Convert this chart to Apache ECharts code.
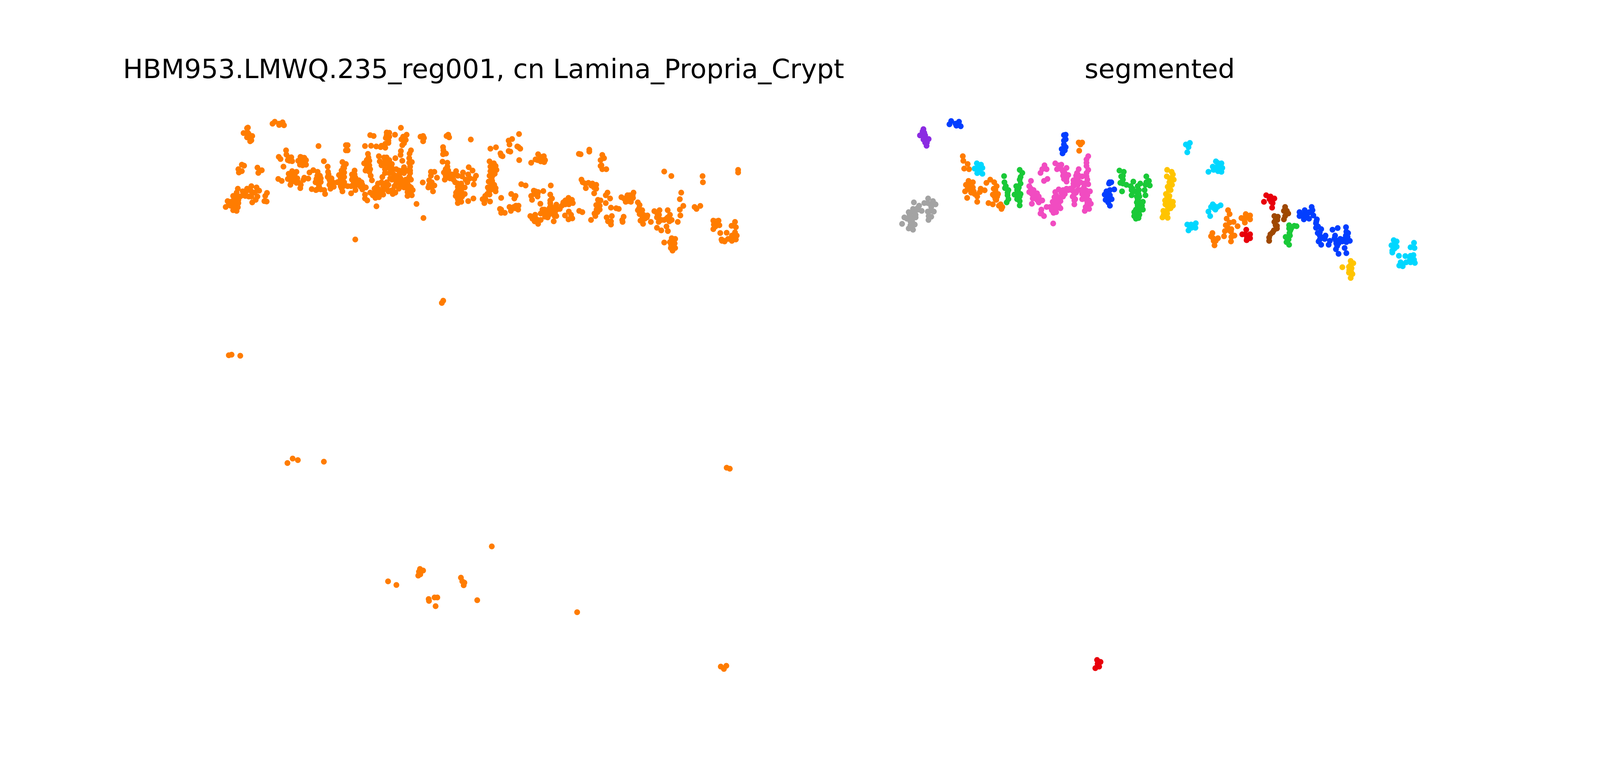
<!DOCTYPE html>
<html><head><meta charset="utf-8"><style>html,body{margin:0;padding:0;background:#fff;overflow:hidden}</style>
<script src="https://cdn.jsdelivr.net/npm/echarts@6/dist/echarts.min.js"></script></head><body><div id="c"></div>
<script>
const titleLeft = "HBM953.LMWQ.235_reg001, cn Lamina_Propria_Crypt";
const titleRight = "segmented";
const allCells = [
[102,780],[145,805],[165,810],[172,782],[113,735],[145,695],[165,670],[172,640],[200,660],[185,700],[215,695],[225,640],[250,620],[280,630],[295,655],[285,700],[250,700],[255,745],[275,725],[130,740],[150,745],[150,775],[175,725],[340,672],[330,695],[325,735],[338,738],
[160,700],[175,750],[130,770],[200,690],[220,660],[250,660],[270,670],[235,700],[150,720],[120,760],
[225,175],[230,170],[205,212],[230,210],[255,235],[225,245],[250,268],[243,275],[225,210],[240,240],[235,220],
[372,140],[385,125],[410,140],[430,130],[438,152],[410,150],
[195,455],[208,463],[175,490],[178,515],[195,505],[285,478],[310,498],[290,518],[408,395],[418,412],[435,470],
[450,345],[452,378],[480,398],[460,420],[485,428],[533,395],[555,402],[565,420],[520,425],[530,455],[565,455],[540,430],[637,312],[668,428],[405,565],[425,580],[465,400],[470,425],[540,400],[530,420],[550,440],[545,460],[555,425],
[485,505],[510,510],[465,525],[460,565],[490,540],[515,560],[475,610],[510,595],[535,610],[532,635],[490,575],[555,555],[550,572],[578,562],[480,530],[500,530],[475,565],[505,575],[520,590],[480,590],
[585,515],[607,497],[632,510],[645,540],[640,570],[620,590],[650,588],[598,643],[622,650],[640,620],[630,645],[630,540],[625,565],[650,560],[635,600],
[690,470],[692,510],[690,550],[712,560],[705,590],[710,620],[706,640],[725,625],[670,650],[675,680],[650,645],[700,570],[695,530],[720,590],[700,610],
[745,590],[755,535],[775,435],[795,450],[780,475],[785,515],[770,555],[770,600],[785,590],[775,660],[770,635],[765,560],[760,580],[775,520],[785,480],[775,580],[765,620],[780,620],[770,500],[785,550],
[795,305],[805,305],[795,345],[805,345],
[845,500],[830,530],[830,570],[850,555],[870,575],[885,590],[860,610],[880,625],[910,630],[805,620],[825,620],[850,650],[890,645],[825,675],[840,590],[845,530],[850,590],[860,580],[845,620],[870,600],[890,610],[835,550],
[905,312],[935,228],[955,235],[1112,172],[940,310],[970,315],[995,320],[1022,325],[1040,288],[1022,295],
[922,372],[930,425],[900,445],[908,500],[935,490],[915,420],[938,540],[945,575],[915,450],[930,460],[925,400],[915,480],[930,510],
[1030,208],[1045,210],[1025,250],[1045,240],[1078,225],[1145,225],[1115,260],[1140,265],[1120,305],[1112,350],[1120,425],[1110,380],[1040,270],[1030,230],[1130,290],[1125,240],[1000,310],
[1170,345],[1162,370],[1160,405],[1175,435],[1165,470],[1165,520],[1160,440],[1165,500],
[985,390],[1015,400],[990,430],[1045,420],[1025,450],[1080,405],[1020,490],[1045,480],[1045,520],[1085,490],[1130,475],[1130,520],[1090,540],[1050,560],
[1020,520],[1060,500],[1070,530],[1100,500],[1120,500],[1110,520],[1145,500],[1020,430],[1000,460],[1040,450],[1060,450],[1030,400],[1060,480],
[1005,550],[1000,590],[970,630],[960,670],[985,670],[1010,685],[985,705],[965,710],[935,670],[1065,680],[1055,655],[1100,640],[1085,600],[1040,610],[1110,560],
[980,600],[1010,620],[1030,640],[1060,570],[1080,570],[1100,590],[1120,580],[1140,570],[1010,650],[1075,620],[1110,610],[1130,630],[1160,620],[1165,660],[1140,620],[1150,640],[1030,590],[980,640],[960,640],[950,690],[985,650],[1000,660],[960,690],[1040,660],[1065,650],[1080,670],
[905,685],[905,715],[918,730],[971,775],
[1170,570],[1150,600],[1170,630],[1180,650],[1150,665],[1150,695],[1175,690],[1135,590],[1160,550],
[1202,757],[1242,865],[849,1030],[1240,235],[1225,240],[1245,250],[1240,275],[1385,225],[1375,235],[1390,245],[1515,262],
[1355,320],[1357,345],[1355,375],[1372,370],[1352,432],[1380,440],[1380,470],[1360,515],[1385,520],[1365,570],[1405,530],[1370,490],[1370,540],[1385,500],[1400,550],
[1238,592],[1285,510],[1305,510],[1320,555],[1275,575],[1305,615],[1270,630],[1297,660],[1285,540],[1290,590],[1290,630],[1275,610],
[1430,505],[1470,515],[1415,570],[1425,590],[1465,545],[1500,530],[1525,500],[1503,475],[1545,540],[1535,565],[1495,590],[1532,607],[1510,560],[1485,570],[1440,540],[1420,530],[1395,560],
[1440,625],[1480,630],[1440,650],[1480,680],[1428,695],[1440,720],[1460,740],[1440,750],[1530,715],[1500,735],[1440,600],[1460,600],[1460,630],[1460,660],[1450,690],[1465,700],[1455,720],[1430,670],
[1793,220],[1733,270],[1753,258],[1738,300],[1733,350],[1743,355],[1628,332],[1660,322],[1783,315],[1800,332],[1790,320],[1686,368],[1698,390],[1690,385],[1794,420],
[1903,375],[1936,390],[1943,420],[1918,430],[1938,435],[1888,415],[1863,440],[1913,410],[1925,395],[1930,410],[1900,420],[2138,372],[2148,375],[2198,340],[2198,355],
[2273,380],[2283,405],[2263,420],[2263,465],[2273,490],[2296,490],[2268,460],[2630,508],[2671,542],[2851,543],[2853,590],[3056,495],[3056,515],
[1623,430],[1648,445],[1658,465],[1628,470],[1663,495],[1653,525],[1623,540],[1628,505],[1618,585],[1613,630],[1633,610],[1658,635],[1658,660],[1628,650],[1598,695],[1583,720],[1623,685],[1593,750],[1626,738],[1638,580],
[1640,460],[1640,500],[1640,540],[1635,560],[1640,600],[1640,640],[1650,610],[1620,650],[1610,680],[1600,720],
[1806,605],[1831,615],[1748,680],[1773,695],[1766,715],[1690,710],
[1976,615],[1933,658],[1888,660],[1903,665],[1878,655],[1863,695],[1868,725],[1893,680],[1900,680],[1880,680],[1900,700],
[1973,685],[1983,715],[1973,750],[2008,762],[1916,755],[2028,795],[2048,745],[2078,710],[2098,725],[2103,750],[2068,745],[1973,730],[2060,730],[2060,760],[2040,770],[2085,730],[2080,760],
[1968,790],[1928,800],[1918,830],[1978,830],[1998,850],[2008,850],[1993,890],[1958,860],[1943,855],[1975,770],[1975,800],[1960,820],[1945,830],[1990,820],[2000,830],[1965,840],[1940,800],[1995,790],[2010,800],
[1858,850],[1886,840],[1883,890],[1903,910],[1918,880],[1870,870],[1890,870],[1900,880],
[1683,795],[1690,825],[1711,825],[1738,780],[1746,810],[1763,780],[1790,770],[1788,800],[1770,790],[1775,770],[1690,800],
[2080,815],[2093,840],[2058,845],[2078,875],[2100,868],[2140,810],[2158,820],
[2248,725],[2263,730],[2238,765],[2258,800],[2228,830],[2233,850],[2208,880],[2258,770],[2248,760],[2250,780],[2240,800],[2245,820],
[2153,570],[2160,590],[2193,595],[2178,635],[2216,600],[2238,610],[2238,640],[2226,675],[2175,600],[2210,615],[2225,630],
[2303,670],[2293,690],[2318,715],[2293,750],[2323,785],[2353,790],[2368,795],[2328,850],[2298,860],[2323,890],[2323,915],[2306,890],[2396,855],[2388,880],[2390,895],
[2383,705],[2398,715],[2418,690],[2453,670],[2448,690],[2423,735],[2438,740],[2408,740],[2405,720],[2420,710],[2435,700],[2450,710],[2430,690],
[2478,745],[2488,765],[2478,805],[2503,805],[2488,835],[2533,845],[2518,870],[2493,885],[2508,910],[2553,895],[2485,790],[2495,820],[2510,840],[2505,860],[2530,860],
[2573,812],[2603,805],[2588,860],[2613,880],[2598,895],[2588,940],[2613,960],[2650,805],[2663,840],[2643,870],[2673,880],[2643,930],[2651,965],[2590,830],[2600,840],[2600,870],[2660,890],[2630,880],[2650,860],
[2728,670],[2720,720],[2740,772],[2720,800],[2723,845],[2708,895],[2805,780],[2838,772],[2816,795],
[2673,1020],[2693,1025],[2663,1050],[2630,1053],[2668,1095],[2693,1095],[2678,1115],[2670,1070],[2680,1050],[2680,1080],[2690,1060],
[2913,885],[2943,885],[2916,915],[2948,920],[2913,950],[2930,900],[2925,930],[2930,890],[3038,895],[3018,925],[3043,935],[2953,980],[2990,978],[3038,975],[2963,1040],[2978,1045],[2998,1025],[3023,1020],[3043,1030],[3048,1000],[3020,1000],[3020,1040],[3040,1000],[2975,1040],[2960,1030],
[1356,1500],[1348,1517],[120,1919],[136,1915],[186,1923],[458,2747],[488,2713],[518,2725],[668,2737],[2990,2783],[3008,2791],[1636,3388],
[1222,3561],[1240,3573],[1212,3612],[1224,3602],[1216,3582],[1038,3656],[1086,3684],[1458,3628],[1466,3656],[1478,3666],[1474,3686],
[1272,3792],[1274,3806],[1306,3780],[1322,3780],[1312,3847],[1552,3801],[2128,3893],[2956,4311],[2974,4329],[2988,4305]
];
const grayCells = [[72,910],[110,945],[135,955],[145,915],[85,860],[110,820],[135,795],[125,860],[120,890],[140,745],[170,770],[150,840],[150,860],[185,810],[200,750],[222,715],[250,735],[265,760],[235,760],[220,815],[255,815],[240,855],[224,880],[155,800],[135,820],[100,870],[110,870],[130,890],[120,920],[220,750],[240,780],[235,810],[225,850],[165,800],[160,790],[115,840]];
const purpleCells = [[195,182],[190,200],[175,230],[205,230],[195,262],[225,258],[205,285],[213,310],[200,210],[195,240],[210,260],[215,285]];
const blueCells = [[345,145],[355,120],[380,140],[400,125],[410,160],[385,155],
[1005,228],[1015,225],[1005,270],[1015,260],[1015,320],[992,335],[997,368],[1005,300],[1010,345],
[1268,590],[1278,590],[1295,645],[1250,660],[1240,685],[1270,690],[1245,725],[1280,720],[1270,770],[1265,600],[1260,670],[1270,650],[1255,700],[1265,720],[1260,745],
[2363,820],[2363,850],[2393,805],[2433,780],[2438,805],[2398,845],[2418,870],[2388,875],[2443,845],[2410,830],[2420,820],[2430,820],[2400,860],[2380,840],
[2463,875],[2458,905],[2458,940],[2488,950],[2468,980],[2513,1000],[2493,1015],[2473,1045],[2488,1070],[2508,1025],[2460,890],[2470,930],[2480,975],[2480,1000],[2480,1030],[2510,1010],
[2553,955],[2583,942],[2568,1000],[2538,1040],[2531,1070],[2573,1040],[2598,1025],[2588,1060],[2573,1105],[2588,1140],[2565,1020],[2575,1060],[2580,1080],[2590,1040],
[2631,935],[2633,970],[2643,980],[2618,1030],[2653,1040],[2633,1050],[2623,1095],[2633,1135],[2630,1000],[2640,1010],[2635,1030],[2610,1045]];
const orangeCells = [[422,390],[425,425],[450,450],[430,485],[458,490],
[455,580],[480,590],[440,610],[480,630],[435,660],[465,650],[490,680],[447,710],[505,700],[505,740],[525,640],[520,665],[548,652],[455,610],[450,640],[470,670],[485,660],
[558,595],[580,570],[603,590],[617,620],[610,650],[595,685],[625,680],[570,750],[595,760],[615,725],[640,760],[650,780],[645,795],[600,640],[605,700],[610,720],[620,700],[630,770],
[1090,285],[1110,285],[1100,300],[1093,348],
[1951,805],[1960,835],[1943,870],[1983,895],[1938,920],[2006,928],[1933,965],[1968,970],[1988,1000],[1968,1045],[1960,900],[1950,940],[1960,960],[1970,1010],[1970,950],
[2053,835],[2078,845],[2028,865],[2048,900],[2078,875],[2050,860],[2045,880],[1861,980],[1853,1005],[1868,1040],[1893,1020],[1928,1005],[1873,1075],[1865,1020],[1880,1040]];
const cyanCells = [[503,445],[527,455],[490,485],[535,480],[505,520],[535,525],[515,490],[510,470],[520,510],
[1731,288],[1708,300],[1723,320],[1716,360],
[1881,430],[1913,445],[1863,470],[1918,480],[1893,505],[1913,510],[1838,510],[1868,495],[1900,460],[1890,470],[1895,490],[1890,440],
[1863,760],[1853,780],[1908,767],[1878,800],[1838,815],[1848,850],[1870,790],[1890,780],[1870,770],
[1716,915],[1738,915],[1765,905],[1763,940],[1723,960],[1730,930],[1750,930],[1740,940],
[2906,1035],[2923,1045],[2893,1075],[2923,1085],[2898,1115],[2898,1130],[3023,1055],[3003,1090],[3026,1095],[2936,1155],[2973,1157],[3003,1155],[3020,1150],[3023,1185],[2946,1205],[2938,1230],[2958,1235],[2978,1205],[3003,1205],[3028,1210],[2915,1060],[2910,1100],[3010,1180],[3000,1180],[2950,1225]];
const greenCells = [[660,543],[662,590],[665,635],[685,650],[680,690],[685,720],[675,745],[670,620],[680,670],
[750,495],[765,518],[755,550],[755,600],[730,620],[740,650],[720,685],[755,680],[735,720],[750,768],[750,735],[750,570],[740,680],[750,700],[735,650],[745,630],
[1325,500],[1350,510],[1335,545],[1345,570],[1330,595],[1340,660],[1365,610],[1405,585],[1400,640],[1395,690],[1345,540],[1345,600],[1390,620],[1415,660],[1395,650],
[1445,600],[1430,620],[1437,650],[1480,545],[1495,580],[1475,610],[1500,615],[1470,650],[1475,690],[1480,590],[1435,680],
[1425,700],[1440,700],[1460,740],[1425,745],[1440,770],[1460,800],[1410,820],[1440,810],[1420,870],[1435,865],[1430,720],[1440,740],[1430,770],[1420,800],[1440,840],[1420,840],[1455,770],[1410,850],[1445,790],
[2303,920],[2333,925],[2346,928],[2303,945],[2283,1010],[2308,1000],[2288,1050],[2303,1070],[2310,960],[2305,980],[2300,1030],[2315,945]];
const pinkCells = [[815,580],[805,620],[805,665],[830,650],[850,675],[825,715],[850,725],[880,730],[820,755],[860,745],[815,640],[820,680],[840,700],[860,700],[830,690],
[893,460],[880,490],[870,518],[905,490],[890,580],[910,565],
[955,445],[990,455],[965,490],[1020,480],[1000,510],[1030,535],[1005,565],[1020,585],[1000,540],[1020,560],[990,490],[1010,520],[975,460],
[1145,390],[1135,415],[1135,465],[1145,495],[1135,545],[1145,605],[1090,490],[1080,520],[1135,440],[1135,520],[1140,570],
[1060,575],[1085,560],[1110,545],[1060,620],[1085,610],[1120,630],[1075,540],[1085,530],[1100,590],[1060,600],[1080,590],[1120,600],
[1020,640],[1040,640],[1060,660],[1085,650],[1110,680],[1135,655],[1155,660],[1010,680],[1000,650],[1030,650],[1050,650],[1075,670],[1100,650],[1120,660],[1140,690],[1130,720],[1140,750],[1145,770],[1110,720],
[975,645],[955,665],[950,705],[990,700],[985,735],[940,740],[965,760],[985,790],[905,780],[935,805],[945,825],[960,820],[960,690],[970,720],[960,740],[950,780],[925,780],[945,760],[960,790],[975,770],[990,670],[1000,700],
[1070,720],[1065,760],[1055,700],[1125,710],[1150,730],[1160,755],[1130,780],[1125,810],[1150,795],[1065,680],[1065,730],
[875,800],[870,830],[890,850],[875,830],[943,907]];
const yellowCells = [[1600,495],[1626,510],[1633,530],[1598,545],[1638,570],[1613,590],[1628,610],[1603,625],[1593,680],[1613,695],[1588,730],[1633,740],[1633,770],[1603,800],[1578,810],[1573,860],[1603,863],[1613,750],[1615,560],[1620,650],[1610,650],[1600,700],[1610,720],[1590,760],[1610,770],[1620,790],[1600,770],[1580,840],[1600,830],
[2658,1195],[2673,1212],[2648,1240],[2610,1243],[2663,1250],[2648,1285],[2668,1295],[2658,1325],[2660,1220],[2650,1265],[2660,1275]];
const redCells = [[2171,690],[2196,700],[2218,715],[2158,740],[2208,750],[2205,785],[2190,720],[2200,740],
[2056,955],[2033,990],[2078,990],[2078,1020],[2058,1035],[2050,990],[2060,1000],[2060,1020],
[1186,4323],[1196,4260],[1216,4275],[1208,4311],[1199,4290]];
const brownCells = [[2280,780],[2273,810],[2298,830],[2273,875],[2218,850],[2238,855],[2218,895],[2233,925],[2233,945],[2208,975],[2188,1015],[2188,1040],[2225,880],[2235,880],[2225,920],[2215,960],[2195,990],[2290,810],[2280,850]];

const segments = [
 ['gray',grayCells,'#a3a3a3'],['purple',purpleCells,'#8b2be2'],['blue',blueCells,'#023eff'],['orange',orangeCells,'#ff7c00'],
 ['cyan',cyanCells,'#00d7ff'],['green',greenCells,'#1ac938'],['pink',pinkCells,'#f14cc1'],['yellow',yellowCells,'#ffc400'],
 ['red',redCells,'#e8000b'],['brown',brownCells,'#9f4800']];
// The layout is expressed for a 5000x2000 page and follows the real window size.
const W = Math.min(window.innerWidth,5000), H = Math.min(window.innerHeight,2000);
const sx = W/5000, sy = H/2000;
const el = document.getElementById('c'); el.style.width=W+'px'; el.style.height=H+'px';
const DOT = 16.5*Math.sqrt(sx*sy);
const FONT = 83.33*sx;
const scatter = (name,data,color,idx)=>({type:'scatter',name,data,xAxisIndex:idx,yAxisIndex:idx,symbol:'circle',symbolSize:DOT,
  itemStyle:{color,opacity:1,borderWidth:0},silent:true,clip:false,emphasis:{disabled:true}});
const xa = i=>({type:'value',gridIndex:i,min:0,max:3136,show:false,splitLine:{show:false}});
const ya = i=>({type:'value',gridIndex:i,min:0,max:4500,inverse:true,show:false,splitLine:{show:false}});
const tStyle={fontFamily:'DejaVu Sans',fontSize:FONT,fontWeight:'normal',color:'#000'};
const titleTop = 198*sy-0.8*FONT;
const chart=echarts.init(el,null,{renderer:'canvas',width:W,height:H});
chart.setOption({
 animation:false,backgroundColor:'#fff',
 title:[{text:titleLeft,left:1505*sx,top:titleTop,textAlign:'center',textStyle:tStyle},{text:titleRight,left:3618*sx,top:titleTop,textAlign:'center',textStyle:tStyle}],
 grid:[{left:650*sx,top:270*sy,width:1700*sx,height:1500*sy},{left:2780*sx,top:270*sy,width:1700*sx,height:1500*sy}],
 xAxis:[xa(0),xa(1)],yAxis:[ya(0),ya(1)],
 series:[scatter('all',allCells,'#ff7c00',0),...segments.map(s=>scatter(s[0],s[1],s[2],1))]
});
</script></body></html>
